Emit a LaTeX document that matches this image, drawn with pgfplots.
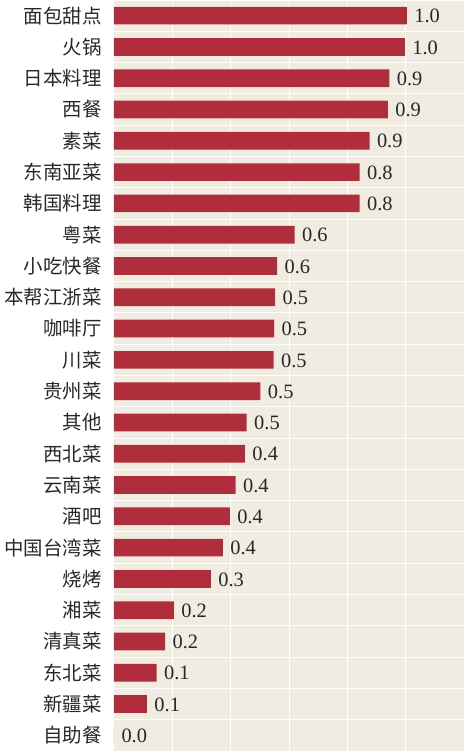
\documentclass[border=0pt]{standalone}
\usepackage{fontspec}
\setmainfont{Liberation Serif}
\newfontfamily\cjk{Noto Sans CJK SC}
\usepackage{pgfplots}
\usepackage{pgfplotstable}
\pgfplotsset{compat=1.18}
\definecolor{barred}{RGB}{176,45,60}
\definecolor{bgc}{RGB}{240,236,226}
\definecolor{txt}{RGB}{40,40,40}
\pgfplotstableread{
idx val lab
0 1.004 1.0
1 0.997 1.0
2 0.944 0.9
3 0.939 0.9
4 0.876 0.9
5 0.842 0.8
6 0.842 0.8
7 0.619 0.6
8 0.559 0.6
9 0.552 0.5
10 0.549 0.5
11 0.547 0.5
12 0.502 0.5
13 0.455 0.5
14 0.449 0.4
15 0.417 0.4
16 0.397 0.4
17 0.373 0.4
18 0.332 0.3
19 0.205 0.2
20 0.175 0.2
21 0.146 0.1
22 0.113 0.1
23 0.000 0.0
}\datatab
\begin{document}
\begin{tikzpicture}
\useasboundingbox (-114bp,0) rectangle (350bp,751bp);
\begin{axis}[
  scale only axis,
  width=350bp, height=751bp,
  xmin=0, xmax=1.2,
  ymin=-0.5, ymax=23.5,
  y dir=reverse,
  axis background/.style={fill=bgc},
  axis line style={draw=none},
  xtick={0,0.2,...,1.2},
  xticklabels={},
  xmajorgrids=true,
  major grid style={white, line width=1bp},
  ytick={0,...,23},
  yticklabels={面包甜点,火锅,日本料理,西餐,素菜,东南亚菜,韩国料理,粤菜,小吃快餐,本帮江浙菜,咖啡厅,川菜,贵州菜,其他,西北菜,云南菜,酒吧,中国台湾菜,烧烤,湘菜,清真菜,东北菜,新疆菜,自助餐},
  minor ytick={-0.5,0.5,...,23.5},
  yminorgrids=true,
  minor grid style={white, line width=1bp},
  major tick length=0pt, minor tick length=0pt,
  yticklabel style={font=\cjk\fontsize{19.5}{19.5}\selectfont, text=txt, xshift=-9bp},
  xbar, bar width=17.7bp, bar shift=0pt,
  point meta=explicit symbolic,
  nodes near coords,
  nodes near coords style={font=\fontsize{20.5}{20.5}\selectfont, text=txt, anchor=west, xshift=4bp, yshift=-0.5bp},
]
\addplot[fill=barred, draw=none] table[x=val, y=idx, meta=lab] {\datatab};
\end{axis}
\end{tikzpicture}
\end{document}
